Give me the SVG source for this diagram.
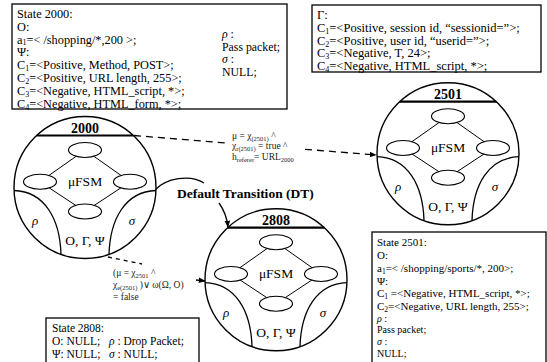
<svg xmlns="http://www.w3.org/2000/svg" width="547" height="362" viewBox="0 0 547 362">
<style>
  text { font-family: "Liberation Serif", "Times New Roman", serif; fill: #000; }
  .box { fill: #fff; stroke: #000; stroke-width: 1.3; }
  .info { font-size: 12.3px; }
  .info2 { font-size: 11px; }
  .info3 { font-size: 11.5px; }
  .small { font-size: 10px; }
  .side { font-size: 11.8px; }
  .num { font-size: 14px; font-weight: bold; text-anchor: middle; }
  .fsm { font-size: 13.5px; text-anchor: middle; }
  .gr { font-size: 13px; font-style: italic; text-anchor: middle; }
  .it { font-style: italic; }
  .edge { fill: none; stroke: #000; stroke-width: 1.3; }
  .dash { stroke-dasharray: 7 5; }
  .dot { stroke-dasharray: 4 4; }
  .cond { font-size: 9.5px; fill: #222; }
  .dt { font-size: 13.5px; font-weight: bold; }
</style>
<defs>
  <marker id="arr" viewBox="0 0 10 10" refX="9" refY="5" markerWidth="7" markerHeight="7" orient="auto" markerUnits="userSpaceOnUse">
    <path d="M0,1 L10,5 L0,9 z" fill="#000"/>
  </marker>
  <!-- state bubble: outline, header bar, inner micro-FSM and the two action regions -->
  <g id="bubble">
    <circle r="71" fill="#fff" stroke="#000" stroke-width="1.4"/>
    <line x1="-48.3" y1="-52" x2="48.3" y2="-52" stroke="#000" stroke-width="2.2"/>
    <path d="M0,-37.5 L-45,-5.7 L0,24 L45,-5.7 Z" fill="none" stroke="#000" stroke-width="1"/>
    <g fill="#fff" stroke="#000" stroke-width="1.1">
      <ellipse cx="0" cy="-37.5" rx="16.5" ry="7.5"/>
      <ellipse cx="-45" cy="-5.7" rx="16.5" ry="7.5"/>
      <ellipse cx="45" cy="-5.7" rx="16.5" ry="7.5"/>
      <ellipse cx="0" cy="24" rx="16.5" ry="7.5"/>
    </g>
    <path d="M-71,3 C-40,4 -25,32 -24,67" fill="none" stroke="#000" stroke-width="1.3"/>
    <path d="M71,3 C40,4 25,32 24,67" fill="none" stroke="#000" stroke-width="1.3"/>
  </g>
</defs>

<rect width="547" height="362" fill="#fff"/>

<!-- State 2000 description -->
<g id="info-2000" class="info">
  <rect class="box" x="12" y="4" width="275" height="105"/>
  <text x="17" y="18">State 2000:</text>
  <text x="17" y="31">O:</text>
  <text x="17" y="43.5">a<tspan font-size="8" dy="1.5">1</tspan><tspan dy="-1.5">=&lt; /shopping/*,200 &gt;;</tspan></text>
  <text x="17" y="56">Ψ:</text>
  <text x="17" y="68.5">C<tspan font-size="8" dy="2">1</tspan><tspan dy="-2">=&lt;Positive, Method, POST&gt;;</tspan></text>
  <text x="17" y="81.5">C<tspan font-size="8" dy="2">2</tspan><tspan dy="-2">=&lt;Positive, URL length, 255&gt;;</tspan></text>
  <text x="17" y="94.5">C<tspan font-size="8" dy="2">3</tspan><tspan dy="-2">=&lt;Negative, HTML_script, *&gt;;</tspan></text>
  <text x="17" y="107.5">C<tspan font-size="8" dy="2">4</tspan><tspan dy="-2">=&lt;Negative, HTML_form, *&gt;;</tspan></text>
  <text class="side" x="222" y="38"><tspan class="it">ρ</tspan> :</text>
  <text class="side" x="222" y="50.5">Pass packet;</text>
  <text class="side" x="222" y="63"><tspan class="it">σ</tspan> :</text>
  <text class="side" x="222" y="75.5">NULL;</text>
</g>

<!-- Gamma conditions -->
<g id="info-gamma" style="font-size:12.5px">
  <rect class="box" x="312" y="5" width="229" height="67"/>
  <text x="317" y="19">Γ:</text>
  <text x="317" y="32">C<tspan font-size="8" dy="2">1</tspan><tspan dy="-2">=&lt;Positive, session id, “sessionid=”&gt;;</tspan></text>
  <text x="317" y="44.5">C<tspan font-size="8" dy="2">2</tspan><tspan dy="-2">=&lt;Positive, user id, “userid=”&gt;;</tspan></text>
  <text x="317" y="57">C<tspan font-size="8" dy="2">3</tspan><tspan dy="-2">=&lt;Negative, T, 24&gt;;</tspan></text>
  <text x="317" y="69.5">C<tspan font-size="8" dy="2">4</tspan><tspan dy="-2">=&lt;Negative, HTML_script, *&gt;;</tspan></text>
</g>

<!-- State 2501 description -->
<g id="info-2501" class="info2">
  <rect class="box" x="372" y="232" width="174" height="140"/>
  <text x="377" y="246">State 2501:</text>
  <text x="377" y="259">O:</text>
  <text x="377" y="272">a<tspan font-size="7.5" dy="2">1</tspan><tspan dy="-2">=&lt; /shopping/sports/*, 200&gt;;</tspan></text>
  <text x="377" y="284.5">Ψ:</text>
  <text x="377" y="297">C<tspan font-size="7.5" dy="2">1</tspan><tspan dy="-2"> =&lt;Negative, HTML_script, *&gt;;</tspan></text>
  <text x="377" y="310">C<tspan font-size="7.5" dy="2">2</tspan><tspan dy="-2">=&lt;Negative, URL length, 255&gt;;</tspan></text>
  <text x="377" y="322" class="small"><tspan class="it">ρ</tspan> :</text>
  <text x="377" y="333" class="small">Pass packet;</text>
  <text x="377" y="345" class="small"><tspan class="it">σ</tspan> :</text>
  <text x="377" y="357" class="small">NULL;</text>
</g>

<!-- State 2808 description -->
<g id="info-2808" class="info3">
  <rect class="box" x="46" y="318" width="153" height="55"/>
  <text x="52" y="332">State 2808:</text>
  <text x="52" y="345">O: NULL;</text>
  <text x="52" y="358">Ψ: NULL;</text>
  <text x="109" y="345"><tspan class="it">ρ</tspan> : Drop Packet;</text>
  <text x="109" y="358"><tspan class="it">σ</tspan> : NULL;</text>
</g>

<!-- transitions -->
<g id="connectors">
  <line class="edge dash" x1="134" y1="135.5" x2="226" y2="143"/>
  <line class="edge dash" x1="305" y1="149.3" x2="376" y2="155" marker-end="url(#arr)"/>
  <text class="cond" x="232" y="138.5">μ = χ<tspan font-size="6.5" dy="2">(2501)</tspan><tspan dy="-2"> ^</tspan></text>
  <text class="cond" x="232" y="149">χ<tspan font-size="6.5" dy="2">r(2501)</tspan><tspan dy="-2"> = true ^</tspan></text>
  <text class="cond" x="232" y="159.5">h<tspan font-size="6.5" dy="2">referer</tspan><tspan dy="-2">= URL</tspan><tspan font-size="6.5" dy="2">2000</tspan></text>

  <path class="edge" d="M155,190 C166,178 190,174 204,183"/>
  <text class="dt" x="177" y="198">Default Transition (DT)</text>
  <path class="edge" d="M219,203 C224,210 227,218 228,227" marker-end="url(#arr)"/>

  <line class="edge dot" x1="108" y1="257" x2="142" y2="264"/>
  <text class="cond" x="113" y="275.5">(μ = χ<tspan font-size="6.5" dy="2">2501</tspan><tspan dy="-2"> ^</tspan></text>
  <text class="cond" x="113" y="288">χ<tspan font-size="6.5" dy="2">e(2501)</tspan><tspan dy="-2"> )∨ ω(Ω, O)</tspan></text>
  <text class="cond" x="113" y="299.5">= false</text>
  <line class="edge" x1="196" y1="280" x2="205" y2="281" marker-end="url(#arr)"/>
</g>

<!-- state 2000 -->
<g id="node-2000" transform="translate(85,187.5)">
  <use href="#bubble"/>
  <text class="num" x="0" y="-55">2000</text>
  <text class="fsm" x="0" y="-1.3">μFSM</text>
  <text class="gr" x="-50" y="37">ρ</text>
  <text class="gr" x="47" y="37">σ</text>
  <text class="fsm" x="0" y="57.5">O, Γ, Ψ</text>
</g>

<!-- state 2501 -->
<g id="node-2501" transform="translate(448,153.7)">
  <use href="#bubble"/>
  <text class="num" x="0" y="-55">2501</text>
  <text class="fsm" x="0" y="-1.3">μFSM</text>
  <text class="gr" x="-50" y="37">ρ</text>
  <text class="gr" x="47" y="37">σ</text>
  <text class="fsm" x="0" y="57.5">O, Γ, Ψ</text>
</g>

<!-- state 2808 -->
<g id="node-2808" transform="translate(276,279.7)">
  <use href="#bubble"/>
  <text class="num" x="0" y="-55">2808</text>
  <text class="fsm" x="0" y="-1.3">μFSM</text>
  <text class="gr" x="-50" y="37">ρ</text>
  <text class="gr" x="47" y="37">σ</text>
  <text class="fsm" x="0" y="57.5">O, Γ, Ψ</text>
</g>
</svg>
